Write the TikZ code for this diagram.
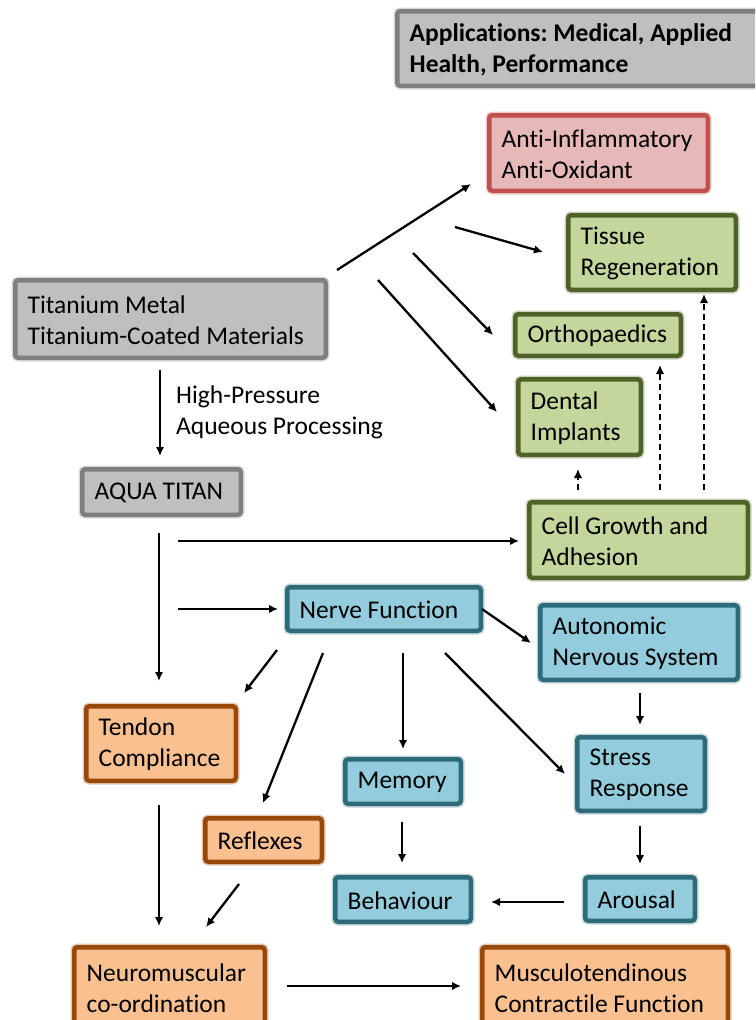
\documentclass[tikz,border=0pt]{standalone}
\usepackage{fontspec}
\setmainfont{Carlito}[Ligatures=NoCommon]
\usetikzlibrary{arrows.meta}
\frenchspacing
\definecolor{grayF}{HTML}{BFBFBF}
\definecolor{grayB}{HTML}{7F7F7F}
\definecolor{redF}{HTML}{E6B9B8}
\definecolor{redB}{HTML}{C0504D}
\definecolor{greenF}{HTML}{C3D69B}
\definecolor{greenB}{HTML}{4F6228}
\definecolor{blueF}{HTML}{93CDDD}
\definecolor{blueB}{HTML}{2E6B79}
\definecolor{orangeF}{HTML}{FAC090}
\definecolor{orangeB}{HTML}{984807}
\newcommand\boxfont{\fontsize{25.5}{31}\selectfont\frenchspacing}
% #1 name, #2 box style, #3-#6 outer bounds x1 y1 x2 y2, #7 text, #8 extra text options
\newcommand\mybox[8]{%
  \pgfmathsetmacro\mbw{#5-#3-4.5}%
  \pgfmathsetmacro\mbh{#6-#4-4.5}%
  \pgfmathsetmacro\mbcx{(#3+#5)/2}%
  \pgfmathsetmacro\mbcy{(#4+#6)/2}%
  \node[#2,minimum width=\mbw pt,minimum height=\mbh pt,
    label={[lbl,anchor=west,label distance=0pt,xshift=14.5pt,yshift=-1pt,#8]west:{#7}}] (#1) at (\mbcx,\mbcy) {};}
\tikzset{
  box/.style={line width=4.5pt, rounded corners=3pt, inner sep=0pt, anchor=center},
  glow/.style={preaction={draw=#1, line width=7.5pt, draw opacity=0.3}},
  gbox/.style={box, draw=grayB, fill=grayF, glow=grayB},
  rbox/.style={box, draw=redB, fill=redF, glow=redB},
  grbox/.style={box, draw=greenB, fill=greenF, glow=greenB},
  bbox/.style={box, draw=blueB, fill=blueF, glow=blueB},
  obox/.style={box, draw=orangeB, fill=orangeF, glow=orangeB},
  arr/.style={line width=2.3pt, -{Latex[length=9pt,width=8.5pt]}},
  darr/.style={arr, dash pattern=on 6pt off 4pt},
  lbl/.style={font=\boxfont, align=left, inner sep=0pt}
}
\begin{document}
\begin{tikzpicture}[x=1pt,y=-1pt]
\useasboundingbox (0,0) rectangle (755,1020);
\clip (0,0) rectangle (755,1020);
% boxes
\mybox{app}{gbox}{395}{9}{775}{88}{Applications: Medical, Applied\\Health, Performance}{font=\boxfont\bfseries}
\mybox{anti}{rbox}{487}{113}{710}{193}{Anti-Inflammatory\\Anti-Oxidant}{}
\mybox{tissue}{grbox}{566}{213}{738}{292}{Tissue\\Regeneration}{}
\mybox{ortho}{grbox}{513}{312}{683}{358}{Orthopaedics}{}
\mybox{dental}{grbox}{516}{377}{643}{457}{Dental\\Implants}{}
\mybox{cell}{grbox}{527}{500}{750}{580}{Cell Growth and\\Adhesion}{}
\mybox{ti}{gbox}{13}{278}{328}{360}{Titanium Metal\\Titanium-Coated Materials}{}
\mybox{aqua}{gbox}{80}{467}{243}{517}{AQUA TITAN}{}
\mybox{nerve}{bbox}{285}{585}{483}{633}{Nerve Function}{}
\mybox{auto}{bbox}{538}{603}{740}{682}{Autonomic\\Nervous System}{}
\mybox{stress}{bbox}{575}{735}{707}{813}{Stress\\Response}{}
\mybox{arousal}{bbox}{583}{875}{697}{923}{Arousal}{}
\mybox{behav}{bbox}{333}{875}{473}{924}{Behaviour}{}
\mybox{memory}{bbox}{343}{757}{463}{806}{Memory}{}
\mybox{reflex}{obox}{203}{816}{324}{864}{Reflexes}{}
\mybox{tendon}{obox}{84}{704}{238}{783}{Tendon\\Compliance}{}
\mybox{neuro}{obox}{72}{945}{267}{1029}{Neuromuscular\\co-ordination}{}
\mybox{musc}{obox}{480}{945}{730}{1029}{Musculotendinous\\Contractile Function}{}
\node[lbl, anchor=west] (hp) at (176,412) {High-Pressure\\Aqueous Processing};
% connector end points
\coordinate (tiS) at (160,370);   \coordinate (aquaN) at (160,456);
\coordinate (f1) at (337,270);    \coordinate (antiW) at (471,184);
\coordinate (f2) at (455,227);    \coordinate (tissueW) at (543,252);
\coordinate (f3) at (413,253);    \coordinate (orthoW) at (493,335);
\coordinate (f4) at (378,280);    \coordinate (dentalW) at (497,412);
\coordinate (c1) at (578,490);    \coordinate (dentalS) at (578,469);
\coordinate (c2) at (660,490);    \coordinate (orthoS) at (660,365);
\coordinate (c3) at (704,490);    \coordinate (tissueS) at (704,294);
\coordinate (aquaS) at (159,533); \coordinate (tendonN) at (159,681);
\coordinate (aquaE1) at (178,541); \coordinate (cellW) at (519,541);
\coordinate (aquaE2) at (178,609); \coordinate (nerveW) at (278,609);
\coordinate (n1) at (277,650);    \coordinate (tendonNE) at (244,693);
\coordinate (n2) at (323,653);    \coordinate (reflexN) at (263,803);
\coordinate (n3) at (403,653);    \coordinate (memoryN) at (403,749);
\coordinate (n4) at (445,653);    \coordinate (stressW) at (565,774);
\coordinate (n5) at (482,609);    \coordinate (autoW) at (531,643);
\coordinate (autoS) at (640,693); \coordinate (stressN) at (640,725);
\coordinate (stressS) at (640,826); \coordinate (arousalN) at (640,864);
\coordinate (memoryS) at (402,822); \coordinate (behavN) at (402,863);
\coordinate (arousalW) at (564,902); \coordinate (behavE) at (491,902);
\coordinate (tendonS) at (159,805); \coordinate (neuroN) at (159,926);
\coordinate (reflexS) at (239,884); \coordinate (neuroNE) at (206,927);
\coordinate (neuroE) at (287,986); \coordinate (muscW) at (461,986);
% connectors
\draw[arr] (tiS) -- (aquaN);
\draw[arr] (f1) -- (antiW);
\draw[arr] (f2) -- (tissueW);
\draw[arr] (f3) -- (orthoW);
\draw[arr] (f4) -- (dentalW);
\draw[darr] (c1) -- (dentalS);
\draw[darr] (c2) -- (orthoS);
\draw[darr] (c3) -- (tissueS);
\draw[arr] (aquaS) -- (tendonN);
\draw[arr] (aquaE1) -- (cellW);
\draw[arr] (aquaE2) -- (nerveW);
\draw[arr] (n1) -- (tendonNE);
\draw[arr] (n2) -- (reflexN);
\draw[arr] (n3) -- (memoryN);
\draw[arr] (n4) -- (stressW);
\draw[arr] (n5) -- (autoW);
\draw[arr] (autoS) -- (stressN);
\draw[arr] (stressS) -- (arousalN);
\draw[arr] (memoryS) -- (behavN);
\draw[arr] (arousalW) -- (behavE);
\draw[arr] (tendonS) -- (neuroN);
\draw[arr] (reflexS) -- (neuroNE);
\draw[arr] (neuroE) -- (muscW);
\end{tikzpicture}
\end{document}
